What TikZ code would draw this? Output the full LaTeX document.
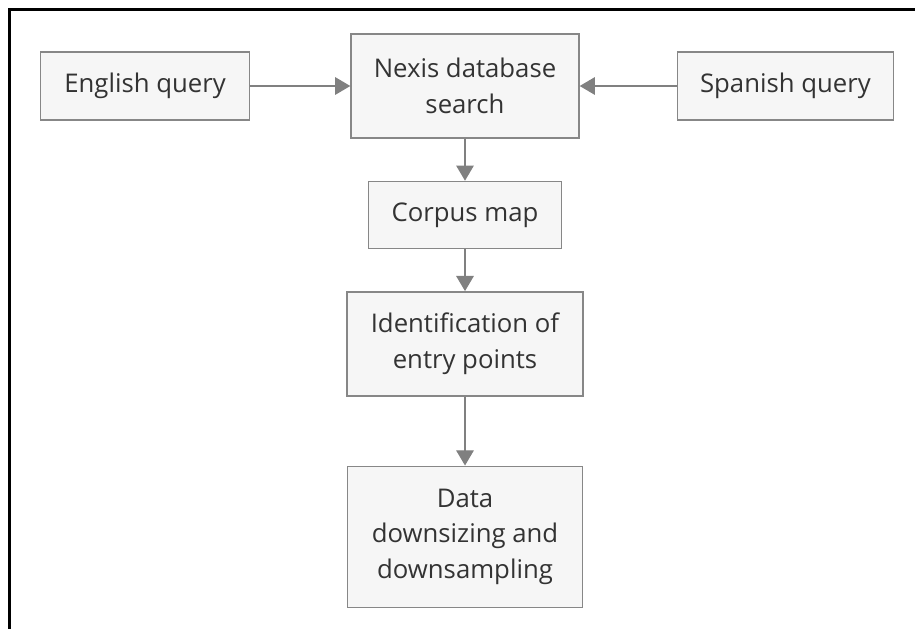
\documentclass[tikz,border=0pt]{standalone}
\usepackage{fontspec}
\setmainfont{Open Sans}
\usetikzlibrary{arrows.meta, positioning}

\definecolor{boxfill}{HTML}{F6F6F6}
\definecolor{boxline}{HTML}{878787}
\definecolor{arrline}{HTML}{808080}
\definecolor{txt}{HTML}{333333}

\begin{document}
\begin{tikzpicture}[
    node distance=1.05cm and 2.5cm,
    b/.style={draw=boxline, fill=boxfill, line width=1pt, align=center, inner sep=0pt, text=txt,
      font=\fontsize{18.3}{25.2}\selectfont},
    arr/.style={-{Triangle[length=0.38cm, width=0.44cm]}, draw=arrline, fill=arrline, line width=0.9pt}
]
\useasboundingbox (0,0) rectangle (22.875,-15.7);
% frame (top and left edges only)
\draw[line width=2.5pt, line cap=rect] (0.2375,-15.8) |- (22.95,-0.2375);

\node[b, minimum width=5.7cm, minimum height=2.6cm] (nexis) at (11.625,-2.15) {Nexis database\\search};
\node[b, minimum width=5.225cm, minimum height=1.7cm, left=of nexis] (eng) {English query};
\node[b, minimum width=5.4cm, minimum height=1.7cm, right=2.425cm of nexis] (spa) {Spanish query};
\node[b, minimum width=4.825cm, minimum height=1.675cm, below=of nexis] (corpus) {Corpus map};
\node[b, minimum width=5.9cm, minimum height=2.6cm, below=of corpus] (ident) {Identification of\\entry points};
\node[b, minimum width=5.875cm, minimum height=3.525cm, below=1.725cm of ident] (data) {Data\\downsizing and\\downsampling};

\draw[arr] (eng) -- (nexis);
\draw[arr] (spa) -- (nexis);
\draw[arr] (nexis) -- (corpus);
\draw[arr] (corpus) -- (ident);
\draw[arr] (ident) -- (data);
\end{tikzpicture}
\end{document}
